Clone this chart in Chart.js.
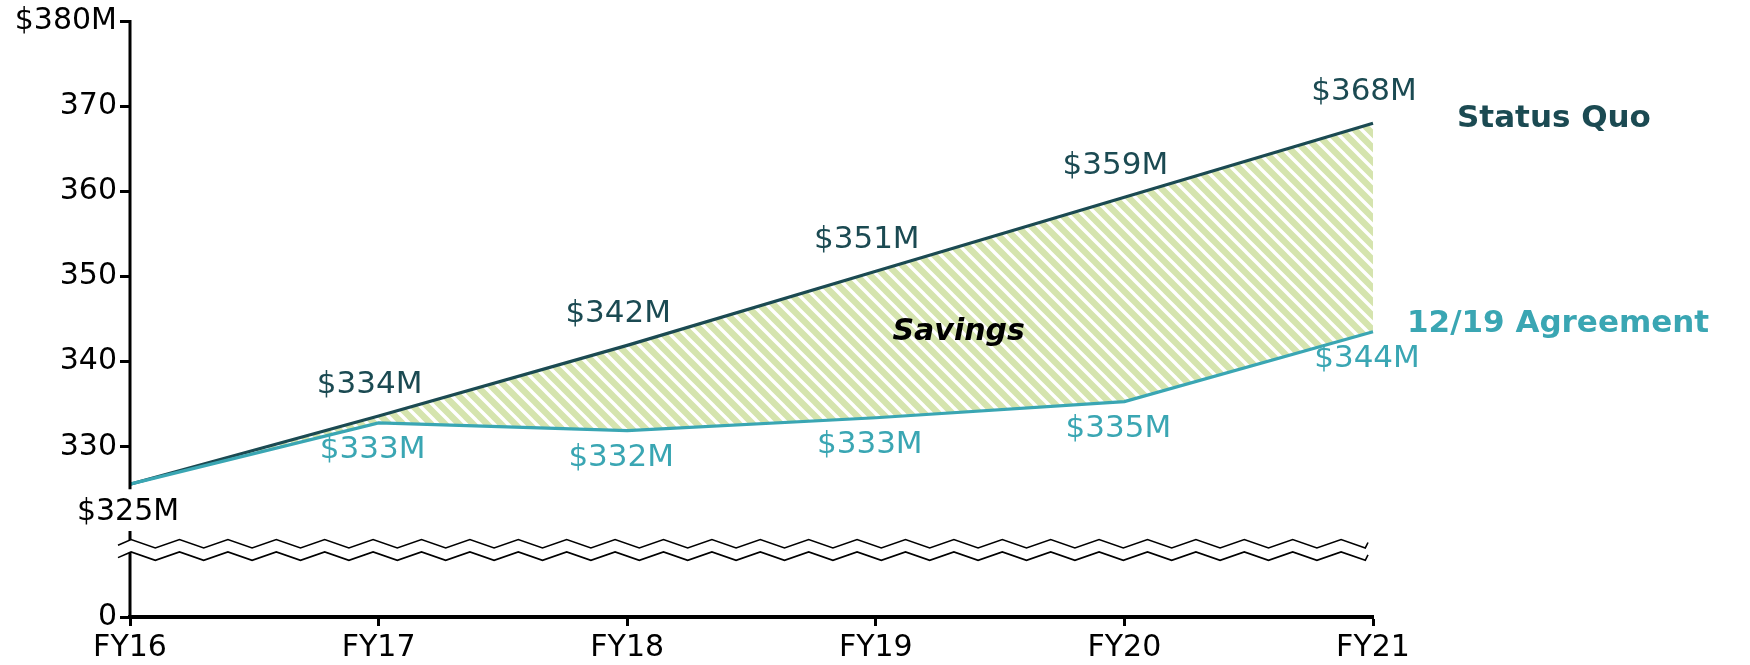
<!DOCTYPE html>
<html>
<head>
<meta charset="utf-8">
<script src="https://cdn.jsdelivr.net/npm/chart.js@4/dist/chart.umd.min.js"></script>
<style>
  html, body { margin: 0; padding: 0; background: #fff; }
  #wrap { width: 1750px; height: 665px; }
</style>
</head>
<body>
<div id="wrap"><canvas id="chart" width="1750" height="665"></canvas></div>
<script>
// データ
const CATEGORIES  = ['FY16', 'FY17', 'FY18', 'FY19', 'FY20', 'FY21'];
const STATUS_QUO  = [325.6, 333.6, 341.9, 350.6, 359.3, 368.0];
const AGREEMENT   = [325.6, 332.8, 331.9, 333.4, 335.3, 343.5];
const SERIES_NAMES = ['Status Quo', '12/19 Agreement'];
// 310 は軸の切れ目の下にある「0」を表す
const Y_TICKS       = [310, 330, 340, 350, 360, 370, 380];
const Y_TICK_LABELS = ['0', '330', '340', '350', '360', '370', '$380M'];
const BREAK_VALUE = 325;
const BREAK_LABEL = '$325M';
const AREA_LABEL  = 'Savings';

const FONT   = '"DejaVu Sans", Verdana, sans-serif';
const DARK   = '#1b4a52';
const TEAL   = '#3aa6b3';
const GREEN  = '#d5e4ae';

// 斜線ハッチ（左上→右下）
function hatch() {
  const p = 14;
  const c = document.createElement('canvas');
  c.width = p; c.height = p;
  const g = c.getContext('2d');
  g.fillStyle = GREEN;
  g.fillRect(0, 0, p, p);
  g.strokeStyle = '#ffffff';
  g.lineWidth = 3.4;
  g.beginPath();
  g.moveTo(-3, -3); g.lineTo(p + 3, p + 3);
  g.moveTo(-3, p - 3); g.lineTo(3, p + 3);
  g.moveTo(p - 3, -3); g.lineTo(p + 3, 3);
  g.stroke();
  return g.createPattern(c, 'repeat');
}

const fmt = v => `$${Math.round(v)}M`;

// 軸の切れ目・ラベル類
const decorPlugin = {
  id: 'decor',
  afterDraw(chart) {
    const { ctx, chartArea: a, scales: { x, y } } = chart;
    ctx.save();

    // y軸（切れ目あり）
    const yBreakTop = y.getPixelForValue(BREAK_VALUE);
    const yBreakBot = y.getPixelForValue(320.1);
    ctx.strokeStyle = '#000';
    ctx.lineWidth = 3;
    ctx.beginPath();
    ctx.moveTo(a.left, a.top - 1);
    ctx.lineTo(a.left, yBreakTop);
    ctx.moveTo(a.left, yBreakBot);
    ctx.lineTo(a.left, a.bottom);
    ctx.stroke();

    // 波線
    const z1 = y.getPixelForValue(318.6);
    const z2 = y.getPixelForValue(317.15);
    const x0 = a.left - 12, x1 = a.right - 5, half = 24.2, amp = 4.2;
    const zig = (yc) => {
      const pts = [];
      let xx = x0, up = true;
      pts.push([xx, yc + 1.5]);
      xx = x0 + half / 2 + 1;
      while (xx < x1) {
        pts.push([xx, up ? yc - amp : yc + amp]);
        up = !up;
        xx += half;
      }
      pts.push([x1, up ? yc - amp * 0.3 : yc + amp * 0.3]);
      return pts;
    };
    const p1 = zig(z1), p2 = zig(z2);
    ctx.fillStyle = '#fff';
    ctx.beginPath();
    p1.forEach(([px, py], i) => i ? ctx.lineTo(px, py) : ctx.moveTo(px, py));
    p2.slice().reverse().forEach(([px, py]) => ctx.lineTo(px, py));
    ctx.closePath();
    ctx.fill();
    ctx.lineWidth = 1.6;
    [p1, p2].forEach(pts => {
      ctx.beginPath();
      pts.forEach(([px, py], i) => i ? ctx.lineTo(px, py) : ctx.moveTo(px, py));
      ctx.stroke();
    });

    // $325M
    ctx.fillStyle = '#000';
    ctx.font = `30px ${FONT}`;
    ctx.textAlign = 'center';
    ctx.textBaseline = 'middle';
    ctx.fillText(BREAK_LABEL, a.left - 2, y.getPixelForValue(322.3));

    // データラベル
    const sq = chart.getDatasetMeta(0).data;
    const ag = chart.getDatasetMeta(1).data;
    ctx.font = `31px ${FONT}`;
    ctx.fillStyle = DARK;
    STATUS_QUO.forEach((v, i) => {
      if (i === 0) return;
      ctx.fillText(fmt(v), sq[i].x - 9, sq[i].y - 31);
    });
    ctx.fillStyle = TEAL;
    AGREEMENT.forEach((v, i) => {
      if (i === 0) return;
      ctx.fillText(fmt(v), ag[i].x - 6, ag[i].y + 27);
    });

    // 系列名
    const last = CATEGORIES.length - 1;
    ctx.font = `bold 31px ${FONT}`;
    ctx.textAlign = 'left';
    ctx.fillStyle = DARK;
    ctx.fillText(SERIES_NAMES[0], sq[last].x + 84, sq[last].y - 4);
    ctx.fillStyle = TEAL;
    ctx.fillText(SERIES_NAMES[1], ag[last].x + 34, ag[last].y - 8);

    // Savings
    const i3 = 3, t = 1 / 3;
    const sx = sq[i3].x + (sq[i3 + 1].x - sq[i3].x) * t;
    const sy1 = sq[i3].y + (sq[i3 + 1].y - sq[i3].y) * t;
    const sy2 = ag[i3].y + (ag[i3 + 1].y - ag[i3].y) * t;
    ctx.font = `italic bold 30px ${FONT}`;
    ctx.textAlign = 'center';
    ctx.fillStyle = '#000';
    ctx.fillText(AREA_LABEL, sx, (sy1 + sy2) / 2 + 3);

    ctx.restore();
  }
};

new Chart(document.getElementById('chart'), {
  type: 'line',
  data: {
    labels: CATEGORIES,
    datasets: [
      {
        label: SERIES_NAMES[0],
        data: STATUS_QUO,
        borderColor: DARK,
        borderWidth: 3.2,
        pointRadius: 0,
        tension: 0,
        fill: '+1',
        backgroundColor: hatch(),
        order: 1,
      },
      {
        label: SERIES_NAMES[1],
        data: AGREEMENT,
        borderColor: TEAL,
        borderWidth: 3.2,
        pointRadius: 0,
        tension: 0,
        fill: false,
        order: 0,
      }
    ]
  },
  options: {
    responsive: false,
    animation: false,
    layout: { padding: { top: 20, right: 377, bottom: 0, left: 0 } },
    plugins: { legend: { display: false }, tooltip: { enabled: false } },
    scales: {
      x: {
        offset: false,
        grid: { display: true, drawOnChartArea: false, drawTicks: true, tickLength: 9, tickWidth: 3, tickColor: '#000' },
        border: { display: true, color: '#000', width: 4 },
        ticks: { color: '#000', font: { family: FONT, size: 30 }, padding: 4, maxRotation: 0, autoSkip: false },
        afterFit: s => { s.height = 48; }
      },
      y: {
        min: 310,
        max: 380,
        afterBuildTicks: s => { s.ticks = Y_TICKS.map(v => ({ value: v })); },
        grid: { display: true, drawOnChartArea: false, drawTicks: true, tickLength: 10, tickWidth: 3, tickColor: '#000' },
        border: { display: false },
        ticks: {
          color: '#000',
          font: { family: FONT, size: 30 },
          padding: 3,
          callback: v => Y_TICK_LABELS[Y_TICKS.indexOf(v)] ?? ''
        },
        afterFit: s => { s.width = 130; }
      }
    }
  },
  plugins: [decorPlugin]
});
</script>
</body>
</html>
